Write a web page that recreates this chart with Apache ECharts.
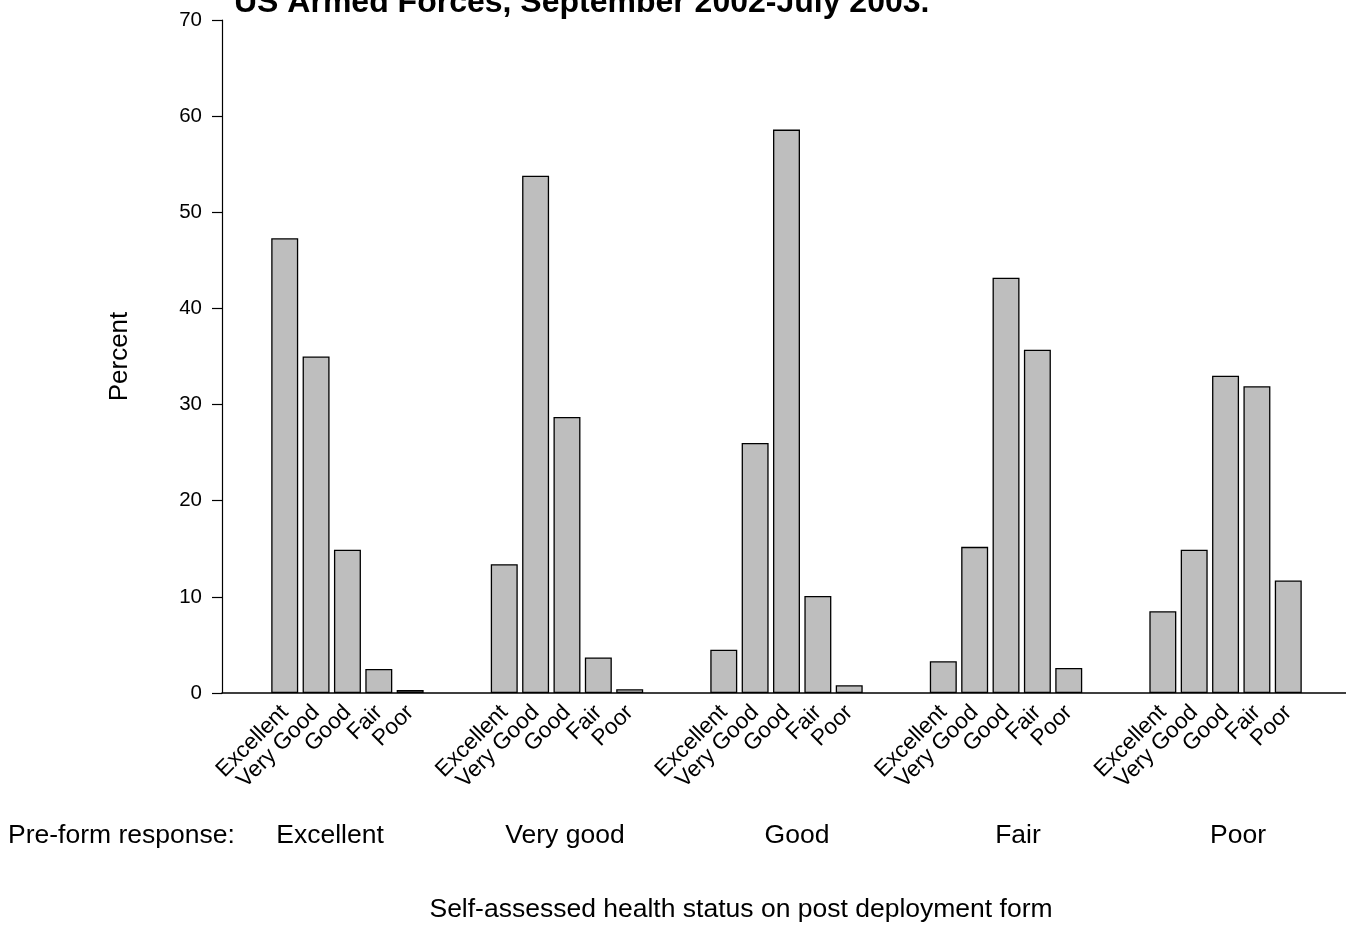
<!DOCTYPE html>
<html>
<head>
<meta charset="utf-8">
<script src="https://cdn.jsdelivr.net/npm/echarts@6/dist/echarts.min.js"></script>
<style>
  html, body { margin: 0; padding: 0; background: #ffffff; }
  #chart { width: 1346px; height: 925px; }
</style>
</head>
<body>
<div id="chart"></div>
<script>
// Self-assessed health on the post deployment form, grouped by the pre-form answer (percent)
const titleText = 'US Armed Forces, September 2002-July 2003.';
const postLabels = ['Excellent', 'Very Good', 'Good', 'Fair', 'Poor'];
const preLabels = ['Excellent', 'Very good', 'Good', 'Fair', 'Poor'];
const preExcellent = [47.3, 35.0, 14.9, 2.5, 0.3];
const preVeryGood  = [13.4, 53.8, 28.7, 3.7, 0.4];
const preGood      = [4.5, 26.0, 58.6, 10.1, 0.8];
const preFair      = [3.3, 15.2, 43.2, 35.7, 2.6];
const prePoor      = [8.5, 14.9, 33.0, 31.9, 11.7];
const yTicks = [0, 10, 20, 30, 40, 50, 60, 70];

const groups = [preExcellent, preVeryGood, preGood, preFair, prePoor];

// Category axis: two empty slots before each group of five bars, plus two trailing slots
const categories = [];
const values = [];
groups.forEach(function (g) {
  categories.push('', '');
  values.push(null, null);
  postLabels.forEach(function (lab, j) {
    categories.push(lab);
    values.push(g[j]);
  });
});
categories.push('', '');
values.push(null, null);

const FONT = '"Liberation Sans", Arial, sans-serif';

const chart = echarts.init(document.getElementById('chart'), null, { renderer: 'canvas' });

// Labels under the groups (pre-form answers)
const preX = [330, 565, 797, 1018, 1238];
const graphics = [{
  type: 'text', x: 8, y: 836,
  style: { text: 'Pre-form response:', font: '26.5px ' + FONT, fill: '#000', textAlign: 'left', textVerticalAlign: 'middle' }
}];
preLabels.forEach(function (t, i) {
  graphics.push({
    type: 'text', x: preX[i], y: 836,
    style: { text: t, font: '26.5px ' + FONT, fill: '#000', textAlign: 'center', textVerticalAlign: 'middle' }
  });
});
graphics.push({
  type: 'text', x: 741, y: 910,
  style: { text: 'Self-assessed health status on post deployment form', font: '26.5px ' + FONT, fill: '#000', textAlign: 'center', textVerticalAlign: 'middle' }
});

chart.setOption({
  animation: false,
  backgroundColor: '#ffffff',
  title: {
    text: titleText,
    left: 234, top: -13, padding: 0,
    textStyle: { fontFamily: FONT, fontSize: 32, fontWeight: 'bold', color: '#000' }
  },
  grid: {
    left: 222, width: 1129, top: 20, bottom: 232,
    containLabel: false, outerBoundsMode: 'none'
  },
  xAxis: {
    type: 'category',
    data: categories,
    boundaryGap: false,
    axisLine: { show: true, lineStyle: { color: '#000', width: 1.5 } },
    axisTick: { show: false },
    axisLabel: {
      interval: 0, rotate: 45, margin: 16,
      fontFamily: FONT, fontSize: 22.5, color: '#000'
    },
    splitLine: { show: false }
  },
  yAxis: {
    type: 'value',
    min: yTicks[0], max: yTicks[yTicks.length - 1], interval: 10,
    name: 'Percent', nameLocation: 'middle', nameGap: 89,
    nameTextStyle: { fontFamily: FONT, fontSize: 26, color: '#000' },
    axisLine: { show: true, lineStyle: { color: '#000', width: 1.2 } },
    axisTick: { show: true, length: 10, lineStyle: { color: '#000', width: 1.2 } },
    axisLabel: { margin: 20, fontFamily: FONT, fontSize: 20.5, color: '#000' },
    splitLine: { show: false }
  },
  series: [{
    type: 'bar',
    data: values,
    barCategoryGap: '14%',
    itemStyle: { color: '#bebebe', borderColor: '#000', borderWidth: 1.3 }
  }],
  graphic: graphics
});
</script>
</body>
</html>
